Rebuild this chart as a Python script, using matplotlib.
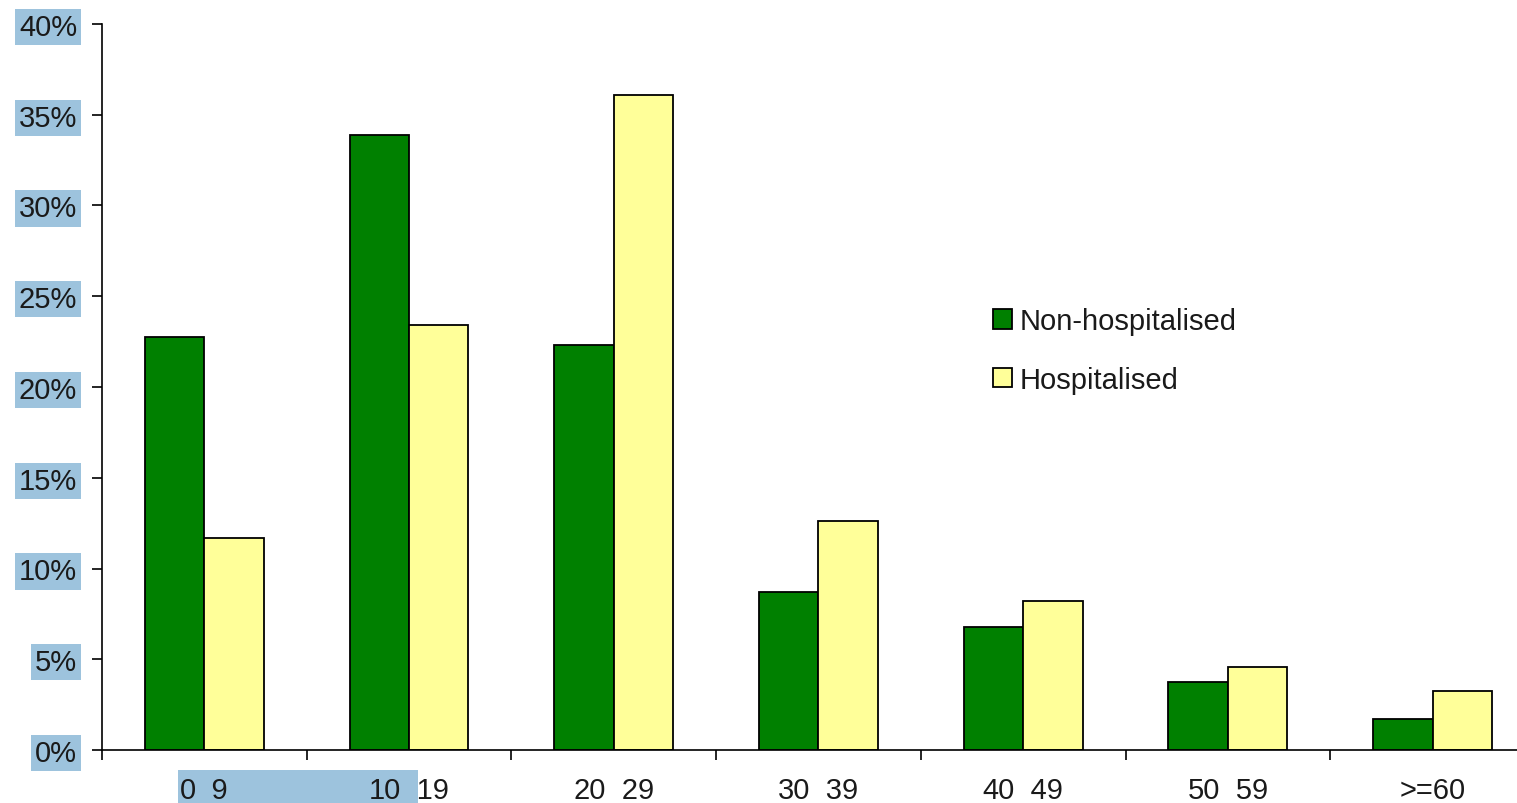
import matplotlib.pyplot as plt
import matplotlib.ticker as ticker
from matplotlib.patches import Rectangle
import numpy as np

plt.rcParams['font.family'] = ['Liberation Sans', 'DejaVu Sans']

age_groups = ['0_9', '10_19', '20_29', '30_39', '40_49', '50_59', '>=60']
non_hospitalised = [22.75, 33.9, 22.3, 8.7, 6.8, 3.75, 1.7]
hospitalised = [11.7, 23.4, 36.1, 12.6, 8.2, 4.6, 3.25]

green = '#008000'
yellow = '#ffff99'
highlight = '#9dc3dd'

fig = plt.figure(figsize=(15.17, 8.04), dpi=100)
ax = fig.add_axes([102 / 1517, 53 / 804, 1 - 102 / 1517, 726 / 804])
ax.set_facecolor('none')

x = np.arange(len(age_groups)) + 0.5
w = 0.29
ax.bar(x - w / 2, non_hospitalised, w, color=green, edgecolor='black', linewidth=1.3, label='Non-hospitalised')
ax.bar(x + w / 2, hospitalised, w, color=yellow, edgecolor='black', linewidth=1.3, label='Hospitalised')

ax.yaxis.set_major_locator(ticker.MultipleLocator(5))
ax.yaxis.set_major_formatter(ticker.FuncFormatter(lambda v, p: f'{v:.0f}%'))
ax.set_xticks(x)
ax.set_xticklabels(age_groups)
ax.set_xticks(np.arange(len(age_groups) + 1), minor=True)
ax.set_xlim(0, (1517 - 102) / 204.7)
ax.set_ylim(0, 40)
ax.tick_params(axis='x', which='major', length=0, pad=18.5, labelsize=21, colors='#1a1a1a')
ax.tick_params(axis='x', which='minor', length=7, width=1.2, direction='out')
ax.tick_params(axis='y', length=7, width=1.2, pad=11, labelsize=21, labelcolor='#1a1a1a')

for lbl in ax.get_yticklabels():
    lbl.set_bbox(dict(facecolor=highlight, edgecolor='none', pad=3))

for side in ['top', 'right']:
    ax.spines[side].set_visible(False)
for side in ['left', 'bottom']:
    ax.spines[side].set_linewidth(1.2)

# selection highlight behind first x labels
fig.patches.append(Rectangle((178 / 1517, 0), 240 / 1517, 33 / 804, transform=fig.transFigure,
                             facecolor=highlight, edgecolor='none', zorder=-1))

ax.legend(loc='center left', bbox_to_anchor=(993 / 1517, 1 - 351.5 / 804), bbox_transform=fig.transFigure,
          frameon=False, fontsize=21, handlelength=0.65, handleheight=0.65, handletextpad=0.25,
          labelspacing=1.05, borderpad=0, borderaxespad=0, labelcolor='#1a1a1a')

fig.savefig('out.png', dpi=100)
